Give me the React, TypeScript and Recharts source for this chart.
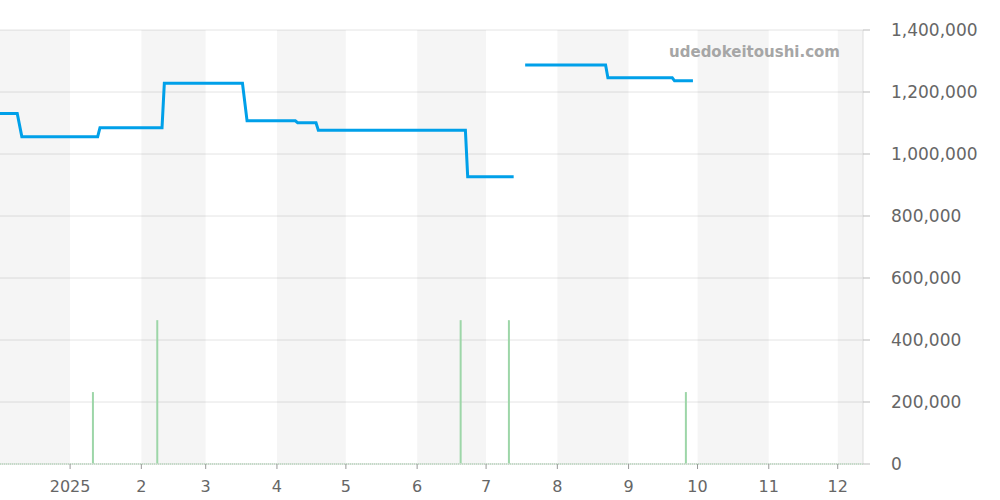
import {
  Bar,
  CartesianGrid,
  ComposedChart,
  Line,
  ReferenceArea,
  ReferenceLine,
  XAxis,
  YAxis,
} from "recharts";

const day = (s: string) => Date.parse(s + "T00:00:00Z");

// visible time range
const START = Date.parse("2024-12-01T12:00:00Z");
const END = day("2025-12-12");

const MONTH_TICKS = [
  "2025-01-01", "2025-02-01", "2025-03-01", "2025-04-01", "2025-05-01", "2025-06-01",
  "2025-07-01", "2025-08-01", "2025-09-01", "2025-10-01", "2025-11-01", "2025-12-01",
];
const MONTH_LABELS = ["2025", "2", "3", "4", "5", "6", "7", "8", "9", "10", "11", "12"];

// shaded months (start, end)
const BAND_STARTS = ["2024-12-01", "2025-02-01", "2025-04-01", "2025-06-01", "2025-08-01", "2025-10-01", "2025-12-01"];
const BAND_ENDS = ["2025-01-01", "2025-03-01", "2025-05-01", "2025-07-01", "2025-09-01", "2025-11-01", "2025-12-12"];

// price line
const PRICE_DATES = [
  "2024-11-30", "2024-12-09", "2024-12-11", "2025-01-13", "2025-01-14", "2025-02-10",
  "2025-02-11", "2025-03-17", "2025-03-19", "2025-04-09", "2025-04-10", "2025-04-18",
  "2025-04-19", "2025-06-22", "2025-06-23", "2025-07-13", "2025-07-15", "2025-07-18",
  "2025-08-22", "2025-08-23", "2025-09-20", "2025-09-21", "2025-09-29",
];
const PRICE_VALUES: (number | null)[] = [
  1131000, 1131000, 1056000, 1056000, 1085000, 1085000,
  1228000, 1228000, 1107000, 1107000, 1101000, 1101000,
  1077000, 1077000, 927000, 927000, null, 1287000,
  1287000, 1246000, 1246000, 1236000, 1236000,
];

// volume bars
const VOLUME_DATES = ["2025-01-11", "2025-02-08", "2025-06-20", "2025-07-11", "2025-09-26"];
const VOLUME_VALUES = [232000, 464000, 464000, 464000, 232000];

const priceData = PRICE_DATES.map((d, i) => ({ t: day(d), price: PRICE_VALUES[i] }));
const volumeData = VOLUME_DATES.map((d, i) => ({ t: day(d), volume: VOLUME_VALUES[i] }));
const monthTicks = MONTH_TICKS.map(day);

const tickStyle = { fill: "#666", fontFamily: "DejaVu Sans" };

function monthLabel(v: number) {
  const i = monthTicks.indexOf(v);
  return i >= 0 ? MONTH_LABELS[i] : "";
}

export default function App() {
  return (
    <div style={{ position: "absolute", left: 0, top: 0, width: 1000, height: 500 }}>
      <ComposedChart
        width={1000}
        height={500}
        data={volumeData}
        margin={{ top: 30, right: 0, bottom: 0, left: 0 }}
      >
        {BAND_STARTS.map((s, i) => (
          <ReferenceArea
            key={s}
            x1={Math.max(day(s), START)}
            x2={day(BAND_ENDS[i])}
            fill="#000"
            fillOpacity={0.04}
            stroke="none"
            ifOverflow="visible"
          />
        ))}
        <CartesianGrid vertical={false} stroke="#e4e4e4" />
        <XAxis
          dataKey="t"
          type="number"
          scale="time"
          domain={[START, END]}
          allowDataOverflow
          ticks={monthTicks}
          tickFormatter={monthLabel}
          height={36}
          tickSize={5}
          tickMargin={12}
          tick={{ ...tickStyle, fontSize: 16 }}
          axisLine={{ stroke: "#ddd" }}
          tickLine={{ stroke: "#999" }}
        />
        <YAxis
          orientation="right"
          type="number"
          domain={[0, 1400000]}
          ticks={[0, 200000, 400000, 600000, 800000, 1000000, 1200000, 1400000]}
          tickFormatter={(v: number) => v.toLocaleString("en-US")}
          width={137}
          tickSize={7}
          tickMargin={21}
          tick={{ ...tickStyle, fontSize: 17, textAnchor: "start" }}
          axisLine={{ stroke: "#ddd" }}
          tickLine={{ stroke: "#bbb" }}
        />
        <ReferenceLine y={0} stroke="#a8dcb0" strokeDasharray="1 1" strokeWidth={2} />
        <Bar dataKey="volume" fill="#9dd6a8" barSize={2} isAnimationActive={false} />
        <Line
          data={priceData}
          dataKey="price"
          type="linear"
          stroke="#00a0e9"
          strokeWidth={3}
          dot={false}
          activeDot={false}
          connectNulls={false}
          isAnimationActive={false}
        />
      </ComposedChart>
      <div
        style={{
          position: "absolute",
          left: 0,
          top: 45,
          width: 840,
          textAlign: "right",
          fontFamily: "DejaVu Sans",
          fontWeight: "bold",
          fontSize: 15,
          lineHeight: 1,
          color: "#a6a6a6",
        }}
      >
        udedokeitoushi.com
      </div>
    </div>
  );
}
